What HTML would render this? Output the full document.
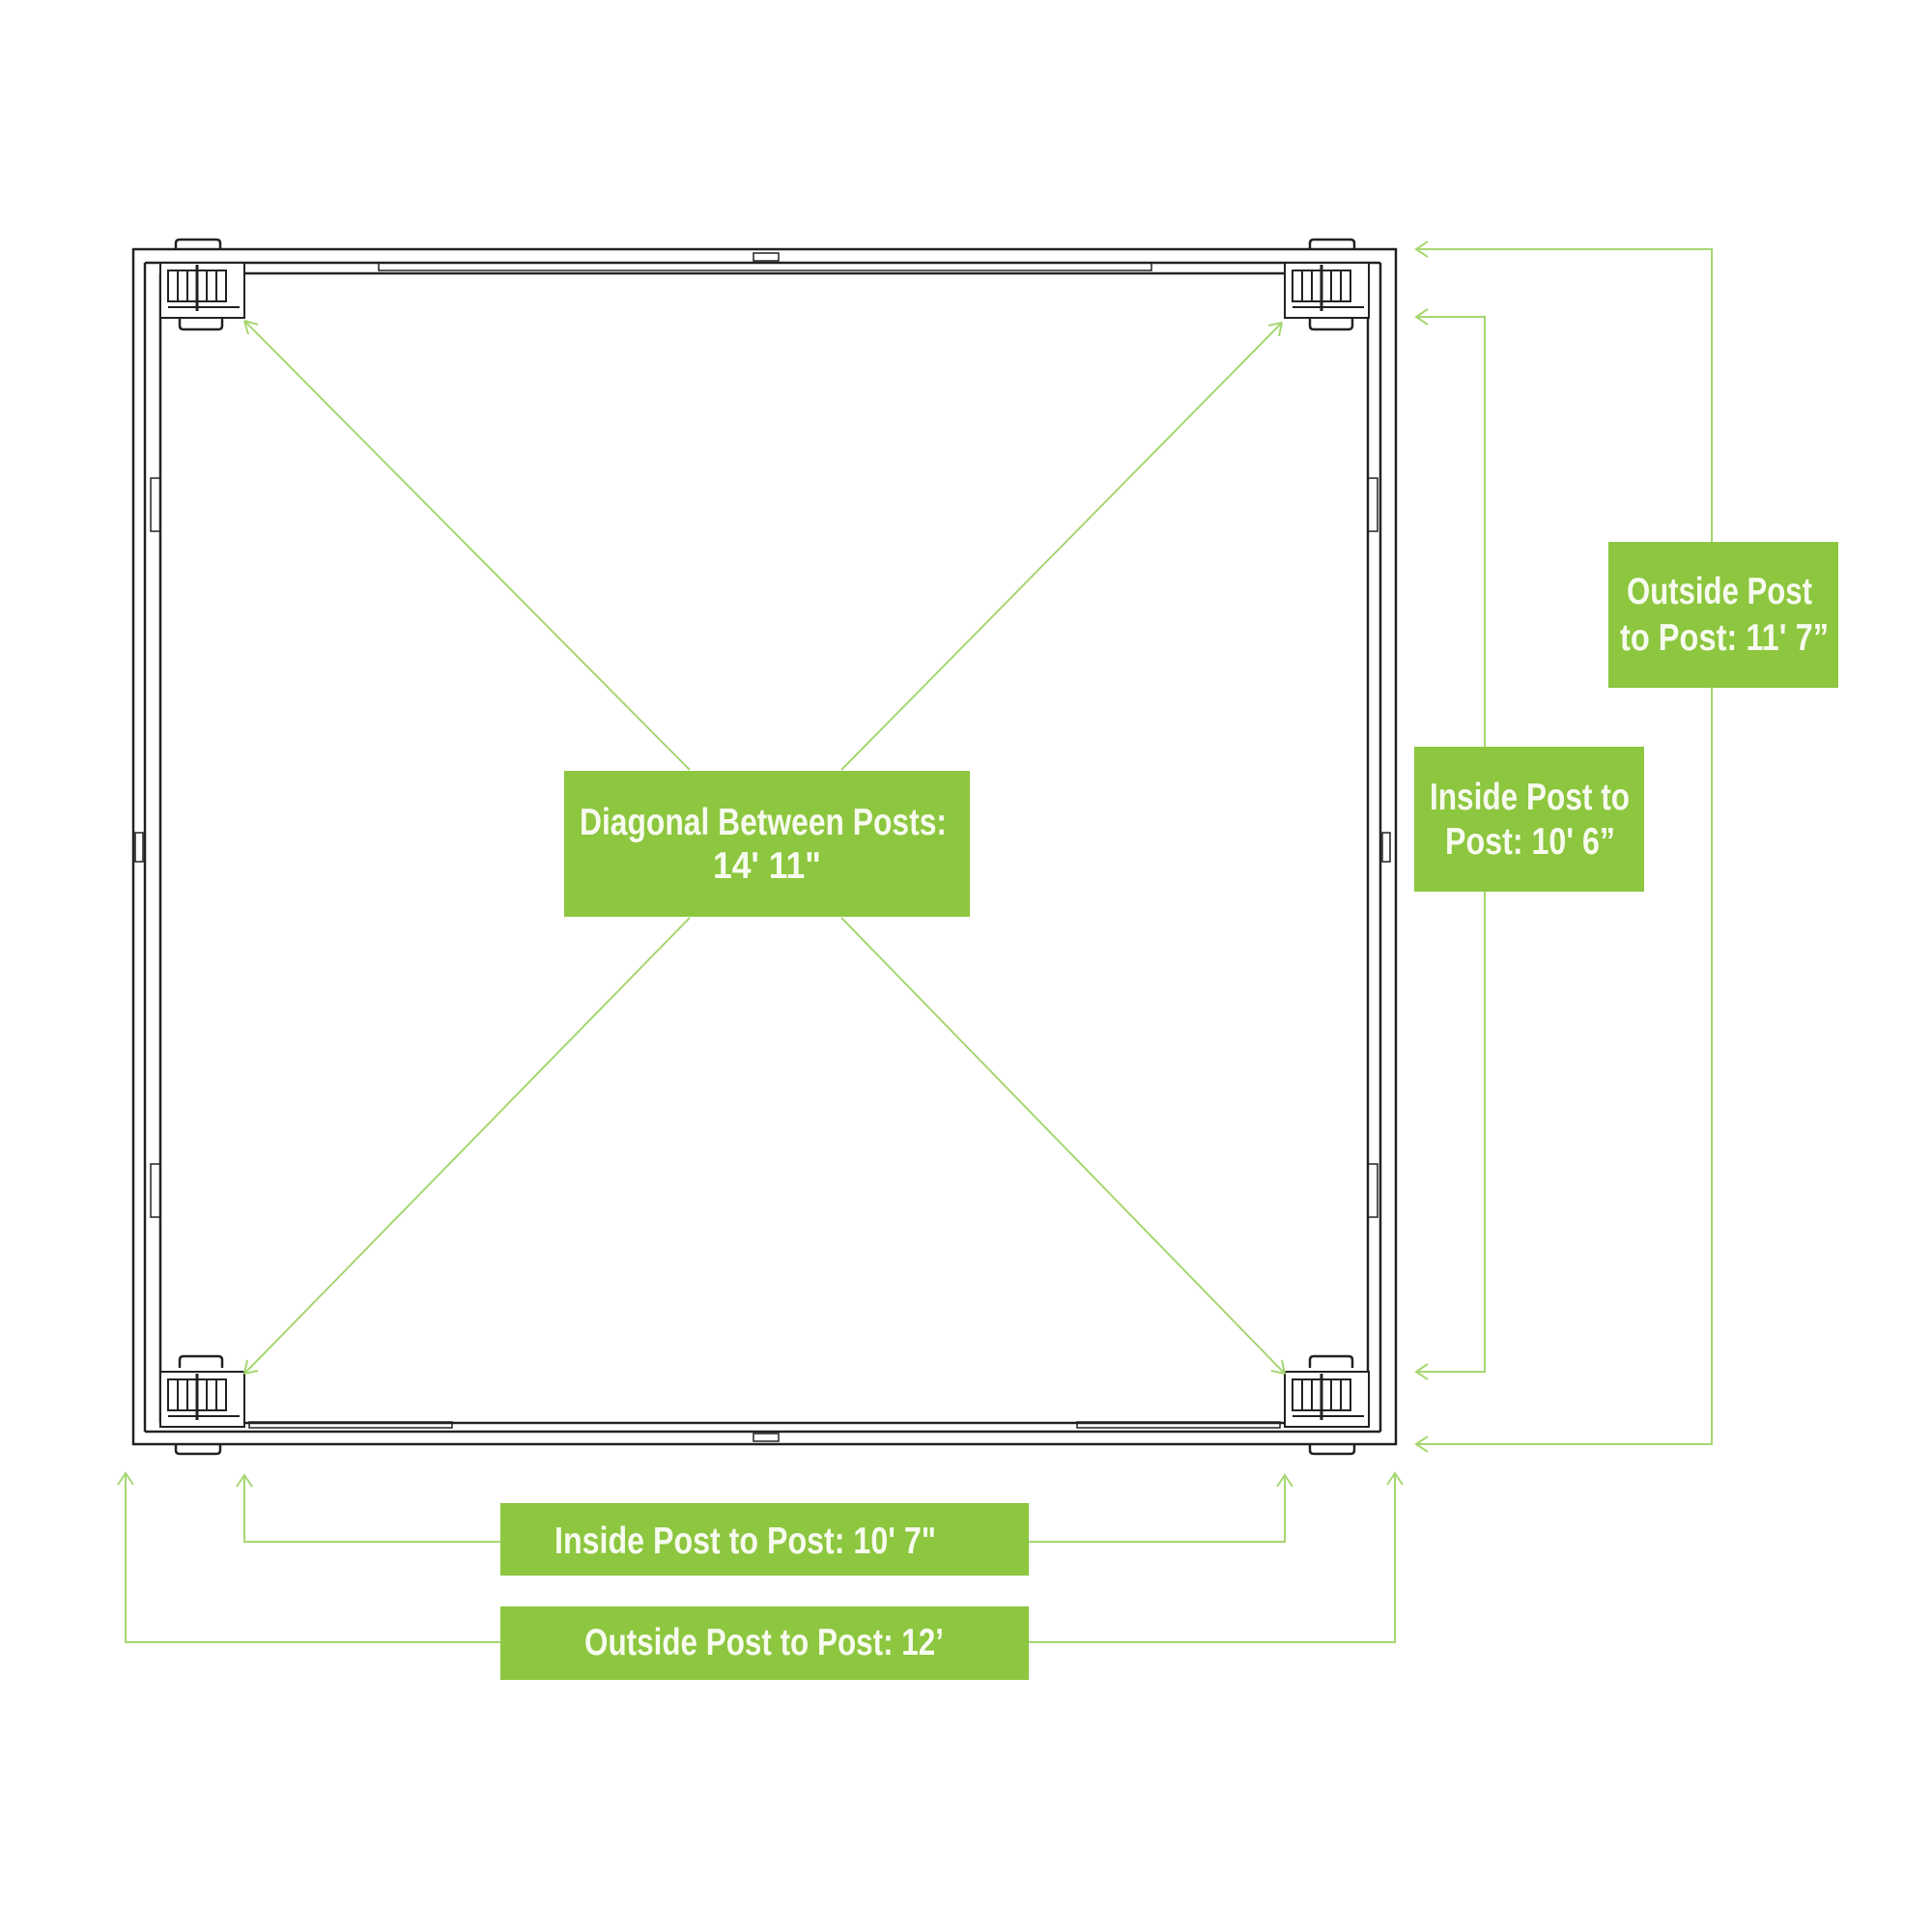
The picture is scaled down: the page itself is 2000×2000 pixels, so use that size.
<!DOCTYPE html>
<html><head><meta charset="utf-8"><style>
html,body{margin:0;padding:0;background:#fff;}
svg{display:block;}
text{font-family:"Liberation Sans Narrow","Liberation Sans",sans-serif;font-weight:bold;fill:#f7fbef;font-size:39px;}
</style></head><body>
<svg width="2000" height="2000" viewBox="0 0 2000 2000" xmlns="http://www.w3.org/2000/svg">
<defs>
<g id="post">
  <rect x="0" y="0" width="87" height="57" fill="#fff" stroke="#222" stroke-width="2"/>
  <rect x="8" y="8" width="60" height="32" fill="none" stroke="#222" stroke-width="2"/>
  <line x1="18" y1="8" x2="18" y2="40" stroke="#222" stroke-width="2"/>
  <line x1="28" y1="8" x2="28" y2="40" stroke="#222" stroke-width="2"/>
  <line x1="38" y1="2" x2="38" y2="50" stroke="#222" stroke-width="3"/>
  <line x1="48" y1="8" x2="48" y2="40" stroke="#222" stroke-width="2"/>
  <line x1="58" y1="8" x2="58" y2="40" stroke="#222" stroke-width="2"/>
  <line x1="8" y1="46" x2="82" y2="46" stroke="#222" stroke-width="2"/>
</g>
</defs>
<!-- frame -->
<g fill="none" stroke="#222" stroke-width="2.5">
  <rect x="138" y="258" width="1307" height="1237"/>
  <line x1="150" y1="272" x2="150" y2="1482"/>
  <line x1="166" y1="283" x2="166" y2="1473"/>
  <line x1="1429" y1="272" x2="1429" y2="1482"/>
  <line x1="1416" y1="283" x2="1416" y2="1473"/>
  <line x1="150" y1="272" x2="1429" y2="272"/>
  <line x1="253" y1="283" x2="1330" y2="283"/>
  <line x1="150" y1="1482" x2="1429" y2="1482"/>
  <line x1="253" y1="1473" x2="1330" y2="1473"/>
  <!-- tabs -->
  <path d="M182 258 v-6 q0-4 4-4 h38 q4 0 4 4 v6"/>
  <path d="M1356 258 v-6 q0-4 4-4 h38 q4 0 4 4 v6"/>
  <path d="M182 1495 v6 q0 4 4 4 h38 q4 0 4-4 v-6"/>
  <path d="M1356 1495 v6 q0 4 4 4 h38 q4 0 4-4 v-6"/>
  <path d="M186 329 v8 q0 4 4 4 h36 q4 0 4-4 v-8"/>
  <path d="M1356 329 v8 q0 4 4 4 h36 q4 0 4-4 v-8"/>
  <path d="M186 1416 v-8 q0-4 4-4 h36 q4 0 4 4 v8"/>
  <path d="M1356 1416 v-8 q0-4 4-4 h36 q4 0 4 4 v8"/>
  <!-- splices -->
  <rect x="392" y="272" width="800" height="8" stroke-width="1.5"/>
  <rect x="258" y="1472" width="210" height="6" stroke-width="1.5"/>
  <rect x="1115" y="1472" width="210" height="6" stroke-width="1.5"/>
  <rect x="156" y="495" width="10" height="55" stroke-width="1.5"/>
  <rect x="156" y="1205" width="10" height="55" stroke-width="1.5"/>
  <rect x="1416" y="495" width="10" height="55" stroke-width="1.5"/>
  <rect x="1416" y="1205" width="10" height="55" stroke-width="1.5"/>
  <rect x="140" y="862" width="8" height="30" stroke-width="1.5"/>
  <rect x="1431" y="862" width="8" height="30" stroke-width="1.5"/>
  <rect x="780" y="262" width="26" height="8" stroke-width="1.5"/>
  <rect x="780" y="1484" width="26" height="8" stroke-width="1.5"/>
</g>
<use href="#post" x="166" y="272"/>
<use href="#post" x="1330" y="272"/>
<use href="#post" x="166" y="1420"/>
<use href="#post" x="1330" y="1420"/>
<!-- dimension lines -->
<g fill="none" stroke="#a6d771" stroke-width="2">
  <line x1="253" y1="332" x2="714" y2="797"/>
  <line x1="1327" y1="334" x2="871" y2="797"/>
  <line x1="253" y1="1422" x2="714" y2="950"/>
  <line x1="1330" y1="1422" x2="871" y2="950"/>
  <path d="M253 332 l4 14 M253 332 l14 4"/>
  <path d="M1327 334 l-14 3 M1327 334 l-3 14"/>
  <path d="M253 1422 l3 -14 M253 1422 l14 -3"/>
  <path d="M1330 1422 l-14 -3 M1330 1422 l-3 -14"/>
  <!-- right inner -->
  <path d="M1466 328 H1537 V1420 H1466"/>
  <path d="M1478 320 l-12 8 l12 8 M1478 1412 l-12 8 l12 8"/>
  <!-- right outer -->
  <path d="M1466 258 H1772 V1495 H1466"/>
  <path d="M1478 250 l-12 8 l12 8 M1478 1487 l-12 8 l12 8"/>
  <!-- bottom inner -->
  <path d="M253 1527 V1596 H1330 V1527"/>
  <path d="M245 1539 l8 -12 l8 12 M1322 1539 l8 -12 l8 12"/>
  <!-- bottom outer -->
  <path d="M130 1525 V1700 H1444 V1525"/>
  <path d="M122 1537 l8 -12 l8 12 M1436 1537 l8 -12 l8 12"/>
</g>
<!-- label boxes -->
<g fill="#8dc63f">
  <rect x="584" y="798" width="420" height="151"/>
  <rect x="1464" y="773" width="238" height="150"/>
  <rect x="1665" y="561" width="238" height="151"/>
  <rect x="518" y="1556" width="547" height="75"/>
  <rect x="518" y="1663" width="547" height="76"/>
</g>
<text x="600" y="864" textLength="380" lengthAdjust="spacingAndGlyphs">Diagonal Between Posts:</text>
<text x="738" y="909" textLength="112" lengthAdjust="spacingAndGlyphs">14' 11"</text>
<text x="1480" y="838" textLength="207" lengthAdjust="spacingAndGlyphs">Inside Post to</text>
<text x="1496" y="884" textLength="176" lengthAdjust="spacingAndGlyphs">Post: 10' 6”</text>
<text x="1684" y="625" textLength="192" lengthAdjust="spacingAndGlyphs">Outside Post</text>
<text x="1677" y="673" textLength="216" lengthAdjust="spacingAndGlyphs">to Post: 11' 7”</text>
<text x="574" y="1608" textLength="395" lengthAdjust="spacingAndGlyphs">Inside Post to Post: 10' 7"</text>
<text x="605" y="1713" textLength="372" lengthAdjust="spacingAndGlyphs">Outside Post to Post: 12’</text>
</svg>
</body></html>
